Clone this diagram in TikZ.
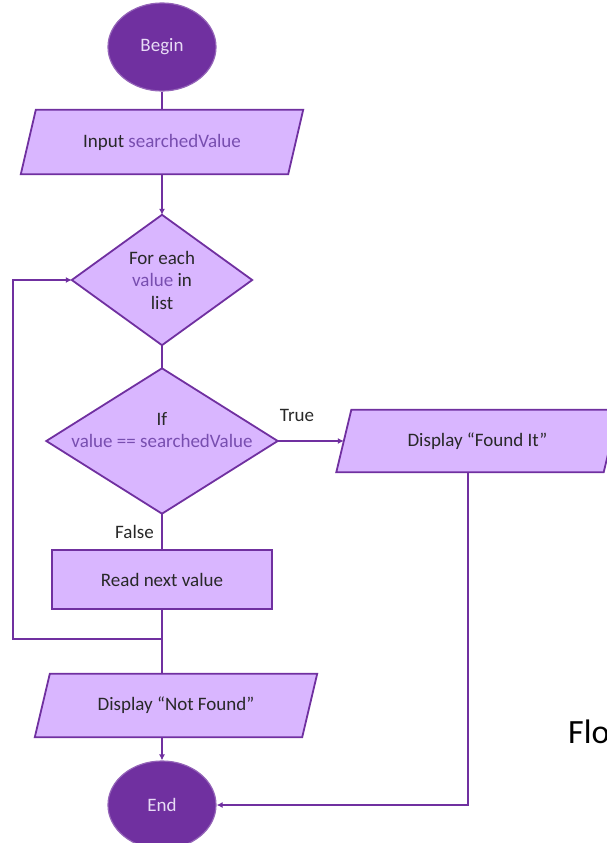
\documentclass[tikz,border=0pt]{standalone}
\usepackage{fontspec}
\setmainfont{Carlito}
\usetikzlibrary{shapes.geometric,arrows.meta,backgrounds}

\definecolor{flowline}{RGB}{112,48,160}
\definecolor{flowfill}{RGB}{217,182,255}
\definecolor{termfill}{RGB}{112,48,160}
\definecolor{bodytext}{RGB}{40,40,40}
\definecolor{vartext}{RGB}{120,78,176}
\definecolor{termtext}{RGB}{232,220,245}

\begin{document}
\begin{tikzpicture}[x=1pt,y=-1pt,
  every node/.style={font=\fontsize{19}{22.5}\selectfont, text=bodytext},
  box/.style={draw=none, inner sep=0pt, align=center},
  term/.style={ellipse, fill=termfill, draw=termfill!75!white, line width=1.2pt,
    minimum width=108pt, minimum height=88pt, inner sep=0pt, text=termtext},
  conn/.style={draw=flowline, line width=1.8pt},
  arr/.style={conn, -{Latex[length=6pt,width=6pt]}},
  shapeline/.style={draw=flowline, fill=flowfill, line width=1.8pt, line join=miter},
  lbl/.style={inner sep=0pt}
]
\useasboundingbox (0,0) rectangle (607,843);

% terminals
\node[term] (begin) at (162,47) {Begin};
\node[term] (end) at (162,805) {End};

% geometry boxes carrying the texts
\node[box, minimum width=267pt, minimum height=64pt] (input) at (162,142)
  {Input \textcolor{vartext}{searchedValue}};
\node[box, minimum width=180pt, minimum height=130pt] (loop) at (162,280)
  {For each\\\textcolor{vartext}{value} in\\list};
\node[box, minimum width=231pt, minimum height=145pt] (test) at (162,441)
  {If\\\textcolor{vartext}{value == searchedValue}\\\mbox{}};
\node[box, minimum width=219pt, minimum height=59pt] (read) at (162,579.5)
  {Read next value};
\node[box, minimum width=267pt, minimum height=62pt] (found) at (477.5,441)
  {Display “Found It”};
\node[box, minimum width=267pt, minimum height=63pt] (notfound) at (176,705.5)
  {Display “Not Found”};

% outlines behind the texts
\begin{scope}[on background layer]
  \path[shapeline] ([xshift=7.5pt]input.north west) -- ([xshift=7.5pt]input.north east)
    -- ([xshift=-7.5pt]input.south east) -- ([xshift=-7.5pt]input.south west) -- cycle;
  \path[shapeline] (loop.north) -- (loop.east) -- (loop.south) -- (loop.west) -- cycle;
  \path[shapeline] (test.north) -- (test.east) -- (test.south) -- (test.west) -- cycle;
  \path[shapeline] (read.north west) rectangle (read.south east);
  \path[shapeline] ([xshift=7.5pt]found.north west) -- ([xshift=7.5pt]found.north east)
    -- ([xshift=-7.5pt]found.south east) -- ([xshift=-7.5pt]found.south west) -- cycle;
  \path[shapeline] ([xshift=7.5pt]notfound.north west) -- ([xshift=7.5pt]notfound.north east)
    -- ([xshift=-7.5pt]notfound.south east) -- ([xshift=-7.5pt]notfound.south west) -- cycle;
\end{scope}

% connectors
\coordinate (join) at (162,639);
\coordinate (rail) at (13,639);
\coordinate (fdrop) at (468,805);

\draw[conn] (begin.south) -- (input.north);
\draw[arr] (input.south) -- (loop.north);
\draw[conn] (loop.south) -- (test.north);
\draw[arr] (test.east) -- (found.west);
\draw[conn] (test.south) -- (read.north);
\draw[conn] (read.south) -- (read.south |- notfound.north);
\draw[arr] (join) -- (rail) |- (loop.west);
\draw[arr] (end.north |- notfound.south) -- (end.north);
\draw[arr] (found.south -| fdrop) -- (fdrop) -- (end.east);

% branch labels
\node[lbl] (truelbl) at (297,415) {True};
\node[lbl, anchor=east] (falselbl) at (154,532) {False};

% caption running off the right edge
\node[anchor=base west, inner sep=0pt, text=black, font=\fontsize{34}{40}\selectfont]
  (caption) at (568,743) {Flo};
\end{tikzpicture}
\end{document}
